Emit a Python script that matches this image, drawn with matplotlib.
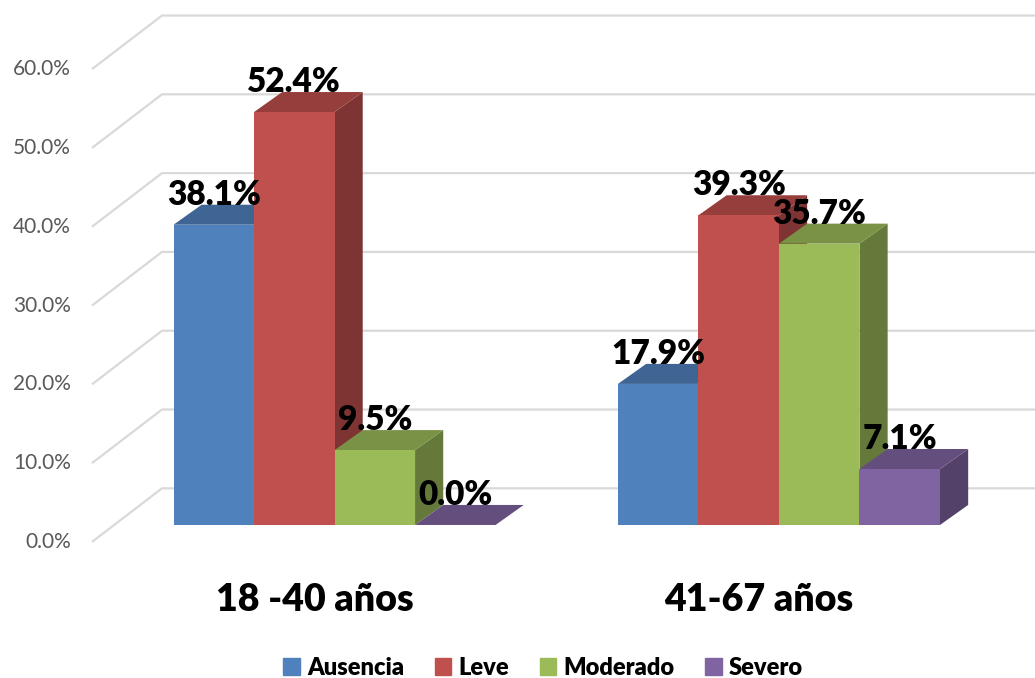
import matplotlib.pyplot as plt
from matplotlib.patches import Patch
from matplotlib.colors import to_rgb

plt.rcParams['font.family'] = ['Lato', 'DejaVu Sans']

# Data
categories = ['18 -40 años', '41-67 años']
series = ['Ausencia', 'Leve', 'Moderado', 'Severo']
ausencia = [38.1, 17.9]
leve = [52.4, 39.3]
moderado = [9.5, 35.7]
severo = [0.0, 7.1]
yticks = [0, 10, 20, 30, 40, 50, 60]

values = [ausencia, leve, moderado, severo]
colors = ['#4F81BD', '#C0504D', '#9BBB59', '#8064A2']


def shade(c, f):
    r, g, b = to_rgb(c)
    return (r * f, g * f, b * f)


fig = plt.figure(figsize=(10.35, 6.78), dpi=100)
ax = fig.add_axes([0, 0, 1, 1])
ax.set_xlim(-2.155, 10.70)
ax.set_ylim(-19.42, 66.62)
ax.axis('off')

# fake 3D: depth offset of the bars and of the back wall
dx, dy = 0.35, 2.54
group_gap = 5.52
wall_front_x, wall_back_x = -1.012, -0.143
wall_front_dy, wall_back_dy = -2.15, 4.65

# gridlines running along the floor and back wall
for t in yticks:
    ax.plot([wall_front_x, wall_back_x, 10.7],
            [t + wall_front_dy, t + wall_back_dy, t + wall_back_dy],
            color='#D9D9D9', lw=1.6, zorder=1, solid_capstyle='butt')
    ax.text(-1.273, t + wall_front_dy, f'{t:.1f}%', ha='right', va='center',
            fontsize=15, color='#595959')

# bars: side, top, then front face
for g in range(len(categories)):
    for i, (vals, c) in enumerate(zip(values, colors)):
        x0 = g * group_gap + i
        x1 = x0 + 1
        v = vals[g]
        z = 2 + g * 10 + i
        ax.fill([x1, x1 + dx, x1 + dx, x1], [0, dy, v + dy, v],
                color=shade(c, 0.65), zorder=z, lw=0)
        ax.fill([x0, x1, x1 + dx, x0 + dx], [v, v, v + dy, v + dy],
                color=shade(c, 0.78), zorder=z, lw=0)
        if v > 0:
            ax.fill([x0, x1, x1, x0], [0, 0, v, v], color=c, zorder=z, lw=0)
        ax.text(x0 + 0.5, v + dy, f'{v:.1f}%', ha='center', va='baseline',
                fontsize=24, fontweight='heavy', color='black', zorder=50)

# category labels
for g, cat in enumerate(categories):
    ax.text(g * group_gap + 2 - 0.25, -9.5, cat, ha='center', va='center',
            fontsize=27, fontweight='heavy', color='black')

handles = [Patch(color=c) for c in colors]
fig.legend(handles, series, loc='center', bbox_to_anchor=(543 / 1035, 1 - 668 / 678),
           ncol=4, frameon=False, prop={'weight': 'heavy', 'size': 17},
           handlelength=0.7, handleheight=0.7, handletextpad=0.3, columnspacing=1.3)

fig.savefig('out.png', dpi=100)
